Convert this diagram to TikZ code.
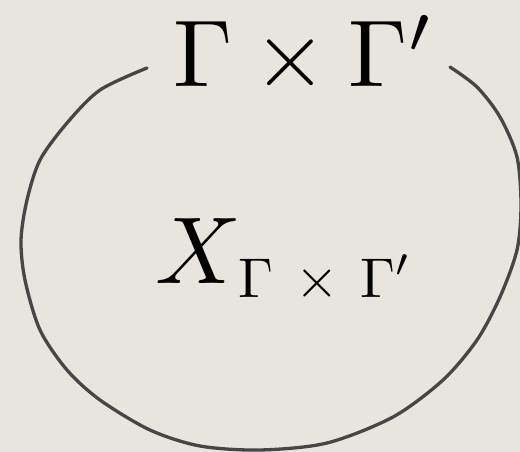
\documentclass[tikz,border=0pt]{standalone}
\definecolor{bgcol}{RGB}{232,229,223}
\definecolor{linecol}{RGB}{70,70,70}
\tikzset{bigtext/.style={inner sep=0pt, text=black}}
\begin{document}
\begin{tikzpicture}[x=1pt,y=-1pt]
\fill[bgcol] (0,0) rectangle (520,452);
\useasboundingbox (0,0) rectangle (520,452);
\draw[linecol, line width=3.3pt, line cap=round] plot[smooth, tension=0.5] coordinates {
 (147,68) (100,90) (67,123) (40,160) (27,200) (21,240) (25,280) (40,330)
 (67,370) (100,400) (150,430) (200,446) (260,450) (327,443) (393,417)
 (443,380) (477,340) (500,297) (517,250) (521,205) (517,157) (500,117)
 (477,87) (450,67)};
\node[bigtext, anchor=base] (top) at (304,87) {\scalebox{9.5}{$\Gamma\times\Gamma'$}};
\node[bigtext, anchor=base west] (inner) at (155,283) {\scalebox{9.5}{$X$}\hspace{-3pt}\raisebox{-14pt}{\scalebox{5.6}{$\Gamma\mkern3mu\times\mkern3mu\Gamma'$}}};
\end{tikzpicture}
\end{document}
